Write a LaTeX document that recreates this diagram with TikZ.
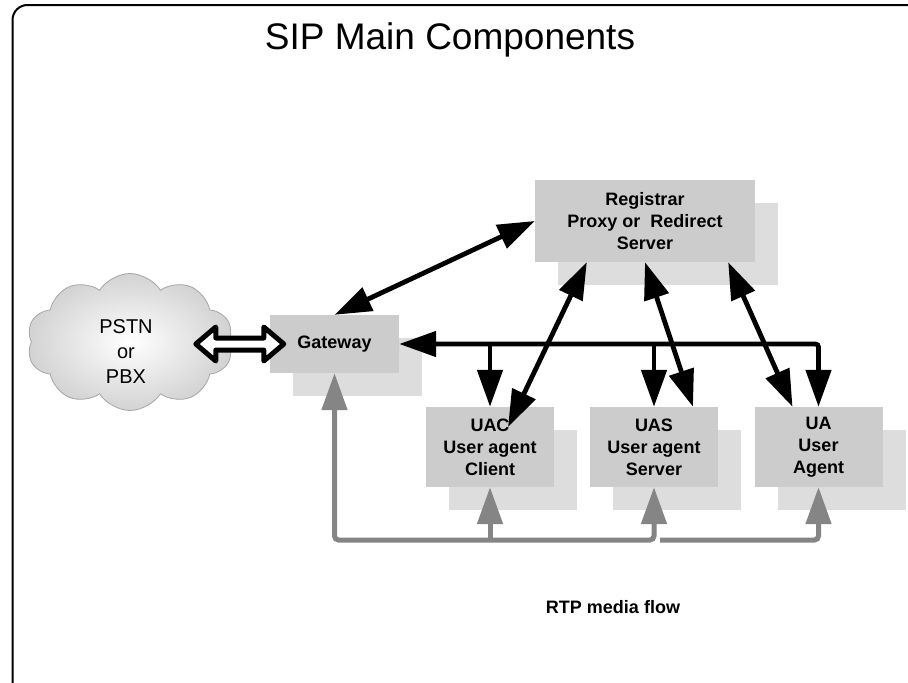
\documentclass[tikz,border=0pt]{standalone}
\usepackage{fontspec}
\setmainfont{Liberation Sans}
\usetikzlibrary{arrows.meta,shapes.symbols,shadows,calc}
\definecolor{boxgray}{HTML}{CCCCCC}
\definecolor{shadowgray}{HTML}{DDDDDD}
\definecolor{rtpgray}{HTML}{858585}
\begin{document}
\begin{tikzpicture}[x=1pt, y=-1pt, >={Triangle[length=37pt,width=25pt]}]
    % Node styles
    \tikzset{sip box/.style={fill=boxgray, inner sep=0pt, align=center,
        font=\fontsize{18}{22}\selectfont\bfseries,
        drop shadow={shadow xshift=23pt, shadow yshift=-23pt, fill=shadowgray, opacity=1}},
      ua box/.style={sip box, minimum width=128pt, minimum height=80pt},
      pstn cloud/.style={cloud, cloud puffs=10, cloud puff arc=115, cloud ignores aspect,
        minimum width=206pt, minimum height=137pt, draw=gray!70, line width=0.8pt,
        inner color=white, outer color=gray!35},
      sip link/.style={line width=4.8pt},
      rtp link/.style={line width=5pt, rtpgray, rounded corners=4pt},
      hollow arrow/.style={line width=5pt, fill=white, line join=round}}

    % --- Page and frame ---
    \useasboundingbox (0,0) rectangle (908,683);
    \fill[white] (0,0) rectangle (908,683);
    \clip (0,0) rectangle (908,683);
    \draw[line width=2pt, rounded corners=15pt] (12.5,5) rectangle (930,700);

    % --- Title ---
    \node[font=\fontsize{37}{40}\selectfont] (title) at (450,40) {SIP Main Components};

    % --- PSTN cloud ---
    \node[pstn cloud] (pstn) at (130,342) {};
    \node[font=\fontsize{20}{25}\selectfont, align=center] (pstn_text) at (126,352) {PSTN\\or\\PBX};

    % --- Server and agents ---
    \node[sip box, minimum width=220pt, minimum height=82pt] (registrar) at (645,221)
      {Registrar\\Proxy or\ \ Redirect\\Server};
    \node[sip box, minimum width=129pt, minimum height=58pt] (gateway) at (334.5,344) {Gateway};
    \node[ua box] (ua_client) at (490,447) {UAC\\User agent\\Client};
    \node[ua box] (ua_server) at (654,447) {UAS\\User agent\\Server};
    \node[ua box] (ua_agent) at (818.5,447) {UA\\User\\Agent};

    % --- PSTN to gateway (hollow double arrow) ---
    \draw[hollow arrow] ([xshift=-74pt]gateway.west) -- ++(20,-17) -- ++(0,11) -- ++(48,0)
      -- ++(0,-11) -- ++(20,17) -- ++(-20,17) -- ++(0,-11) -- ++(-48,0) -- ++(0,11) -- cycle;

    % --- Signalling to the registrar ---
    \draw[sip link, <->] (registrar.west) -- (gateway.north);
    \draw[sip link, <->] ([xshift=52pt]registrar.south west) -- ([xshift=18pt, yshift=20pt]ua_client.center);
    \draw[sip link, <->] (registrar.south) -- ([xshift=39pt]ua_server.north);
    \draw[sip link, <->] ([xshift=-27pt]registrar.south east) -- ([xshift=-26pt]ua_agent.north);

    % --- Signalling bus from the gateway ---
    \draw[sip link, <->, rounded corners=3pt] (gateway.east) -| (ua_agent.north);
    \draw[sip link, ->] (ua_client.north |- gateway.east) -- (ua_client.north);
    \draw[sip link, ->] (ua_server.north |- gateway.east) -- (ua_server.north);

    % --- RTP media flow (grey) ---
    \coordinate (rtp_bus) at (0,540);
    \draw[rtp link, <->] (gateway.south) |- (ua_server.south |- rtp_bus) -- (ua_server.south);
    \draw[rtp link, ->] (ua_client.south |- rtp_bus) -- (ua_client.south);
    \draw[rtp link, ->] ($(ua_server.south |- rtp_bus)+(6,0)$) -| (ua_agent.south);

    \node[font=\fontsize{18}{22}\selectfont\bfseries] (rtp_text) at (613,607) {RTP media flow};

  \end{tikzpicture}
\end{document}
